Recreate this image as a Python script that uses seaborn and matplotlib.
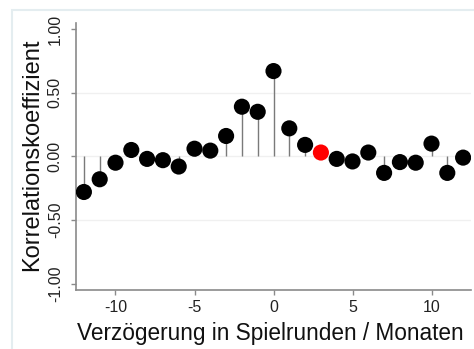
import matplotlib
matplotlib.use("Agg")
import matplotlib.pyplot as plt
import seaborn as sns
import pandas as pd
from matplotlib.patches import Rectangle

lags = [-12, -11, -10, -9, -8, -7, -6, -5, -4, -3, -2, -1, 0,
        1, 2, 3, 4, 5, 6, 7, 8, 9, 10, 11, 12]
corr = [-0.28, -0.18, -0.05, 0.05, -0.02, -0.03, -0.08, 0.06, 0.045, 0.16, 0.39, 0.35, 0.67,
        0.22, 0.09, 0.03, -0.02, -0.04, 0.03, -0.13, -0.045, -0.05, 0.10, -0.13, -0.01]
highlight_lag = 3
ytick_vals = [-1.0, -0.5, 0.0, 0.5, 1.0]
ytick_labels = ["-1.00", "-0.50", "0.00", "0.50", "1.00"]
xtick_vals = [-10, -5, 0, 5, 10]
xlabel = "Verzögerung in Spielrunden / Monaten"
ylabel = "Korrelationskoeffizient"

df = pd.DataFrame({"lag": lags, "corr": corr})
df["grp"] = ["hl" if l == highlight_lag else "base" for l in lags]

sns.set_theme(style="white")
plt.rcParams["font.family"] = ["Liberation Sans", "DejaVu Sans"]

fig = plt.figure(figsize=(4.74, 3.49), dpi=100)
W, H = 474, 349
ax_left, ax_right, ax_top, ax_bot = 76, 471, 22.7, 290
ax = fig.add_axes([ax_left / W, 1 - ax_bot / H, (ax_right - ax_left) / W, (ax_bot - ax_top) / H])

# faint outer frame
fig.patches.append(Rectangle((12 / W, -0.2), 1.2, (1 - 9.5 / H) + 0.2,
                             transform=fig.transFigure, fill=False,
                             edgecolor="#e4edf0", lw=1.5, zorder=0))

for g in [-0.5, 0.0, 0.5]:
    ax.axhline(g, color="#f0f0f0", lw=1.0, zorder=0)

ax.vlines(df["lag"], 0, df["corr"], color="#7a7a7a", lw=1.0, zorder=1)
sns.scatterplot(data=df, x="lag", y="corr", hue="grp",
                palette={"base": "black", "hl": "#ff0000"},
                s=135, linewidth=0, legend=False, ax=ax, zorder=3)

ax.set_xlim(-12.5, 12.5)
ax.set_ylim(-1.05, 1.05)
ax.set_xticks(xtick_vals)
ax.set_xticklabels([str(v) for v in xtick_vals])
ax.set_yticks(ytick_vals)
ax.set_yticklabels(ytick_labels, rotation=90, va="center")

for s in ["top", "right"]:
    ax.spines[s].set_visible(False)
for s in ["left", "bottom"]:
    ax.spines[s].set_color("#8a8a8a")
    ax.spines[s].set_linewidth(1.2)

ax.tick_params(axis="both", which="major", length=3.5, width=1.0, color="#8a8a8a",
               labelsize=11.5, labelcolor="#222222", left=True, bottom=True)
ax.tick_params(axis="x", pad=4)
ax.tick_params(axis="y", pad=6)

ax.set_xlabel("")
ax.set_ylabel("")
fig.text(270 / W, 1 - 340 / H, xlabel, fontsize=16.3, color="#111111",
         ha="center", va="baseline")
fig.text(38 / W, 1 - 155 / H, ylabel, fontsize=17, color="#111111",
         rotation=90, rotation_mode="anchor", ha="center", va="baseline")

fig.savefig("out.png", dpi=100, facecolor="white")
